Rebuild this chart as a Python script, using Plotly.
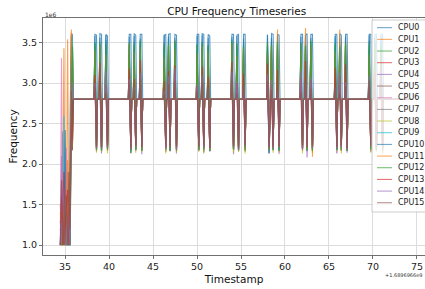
import plotly.graph_objects as go

# ---------------- data (frequency in units of 1e6, time in s after offset) ----------------
TIME_OFFSET_LABEL = "+1.6896966e9"
cpu_names = ["CPU%d" % i for i in range(16)]
tab10 = ["#1f77b4", "#ff7f0e", "#2ca02c", "#d62728", "#9467bd",
         "#8c564b", "#e377c2", "#7f7f7f", "#bcbd22", "#17becf"]

x_ticks = [35, 40, 45, 50, 55, 60, 65, 70, 75]
y_ticks = [1.0, 1.5, 2.0, 2.5, 3.0, 3.5]

early_t = [34.47, 34.60, 34.74, 34.88, 35.02, 35.16, 35.30, 35.44, 35.58, 35.72, 35.84, 35.94]
spike_t = [38.49, 39.06, 39.74, 42.39, 42.95, 43.64, 46.36, 46.85, 47.58,
           50.11, 50.68, 51.36, 54.06, 54.63, 55.38, 58.10, 58.56, 59.24,
           61.90, 62.42, 63.03, 65.80, 66.31, 66.97, 69.66, 70.30, 71.00]
sample_offsets = [-0.19, -0.09, 0.09, 0.19]
idle_freq = 2.80
t_end = 74.45

cpu0_early = [1.0, 1.5, 2.4, 1.0, 1.7, 1.0, 1.9, 1.0, 2.6, 3.6, 3.6, 2.8]
cpu1_early = [1.3, 1.0, 1.6, 3.43, 1.0, 1.4, 3.54, 1.0, 1.6, 3.62, 2.3, 2.8]
cpu2_early = [1.0, 1.4, 1.0, 1.6, 1.0, 1.3, 1.0, 1.5, 1.0, 3.3, 3.5, 2.8]
cpu3_early = [1.2, 1.0, 1.8, 1.0, 1.68, 1.0, 1.5, 1.0, 1.3, 2.9, 2.2, 2.8]
cpu4_early = [1.0, 2.1, 1.0, 1.4, 1.0, 1.2, 1.0, 1.6, 1.0, 3.2, 2.5, 2.8]
cpu5_early = [1.5, 1.0, 1.2, 1.9, 1.0, 1.6, 1.3, 1.0, 1.7, 3.0, 2.17, 2.8]
cpu6_early = [1.0, 3.31, 1.0, 1.3, 1.0, 2.2, 1.0, 1.4, 1.0, 3.1, 3.4, 2.8]
cpu7_early = [1.0, 1.2, 1.3, 1.0, 1.5, 1.0, 1.2, 1.7, 1.0, 2.8, 3.3, 2.8]
cpu8_early = [1.0, 1.0, 1.4, 1.0, 1.2, 1.0, 1.5, 1.0, 1.0, 2.6, 2.2, 2.8]
cpu9_early = [1.0, 1.3, 1.0, 2.6, 1.0, 1.2, 1.0, 1.0, 1.4, 3.4, 3.55, 2.8]
cpu10_early = [1.0, 1.0, 1.5, 1.0, 2.42, 1.0, 1.3, 1.0, 1.0, 3.58, 2.4, 2.8]
cpu11_early = [1.4, 1.0, 1.0, 1.7, 1.0, 1.0, 2.05, 1.0, 1.5, 3.66, 3.2, 2.8]
cpu12_early = [1.0, 1.2, 1.0, 1.0, 1.4, 1.0, 1.0, 1.3, 1.0, 2.9, 3.45, 2.8]
cpu13_early = [1.0, 1.6, 1.0, 1.9, 1.0, 1.5, 1.68, 1.0, 1.8, 2.5, 2.3, 2.8]
cpu14_early = [1.3, 1.0, 1.7, 1.5, 1.0, 1.0, 1.4, 1.2, 1.0, 2.7, 3.0, 2.8]
cpu15_early = [1.0, 1.8, 1.3, 1.0, 1.6, 1.6, 1.0, 1.9, 1.2, 2.9, 2.17, 2.8]

# (peak, trough) pairs for each burst
cpu0_spikes = [3.60, 3.59, 3.61, 3.60, 3.60, 3.58, 3.60, 3.60, 3.61, 3.59, 3.60, 3.60,
               3.59, 3.60, 3.60, 3.61, 3.60, 3.59, 3.60, 3.60, 3.61, 3.60, 3.60, 3.58,
               3.60, 3.60, 3.59, 3.60, 3.60, 3.60, 3.60, 2.14, 3.61, 3.60, 3.60, 3.59,
               3.60, 3.60, 3.59, 3.61, 3.60, 3.60, 3.60, 3.60, 3.61, 3.59, 3.60, 3.60,
               3.60, 3.60, 3.59, 3.60, 3.60, 3.60]
cpu1_spikes = [3.45, 2.18, 3.30, 2.16, 3.50, 2.19, 3.38, 2.17, 3.42, 2.20, 3.25, 2.16,
               3.48, 2.18, 3.35, 2.15, 3.52, 2.17, 3.40, 2.19, 3.30, 2.17, 3.46, 2.16,
               3.36, 2.18, 3.44, 2.15, 3.50, 2.18, 3.32, 2.17, 3.47, 2.20, 3.41, 2.16,
               3.38, 2.18, 3.49, 2.17, 3.45, 2.17, 3.30, 2.19, 3.47, 2.16, 3.52, 2.18,
               3.40, 2.17, 3.36, 2.16, 3.44, 2.18]
cpu2_spikes = [3.50, 2.17, 3.48, 2.19, 3.52, 2.16, 3.47, 2.14, 3.51, 2.18, 3.49, 2.17,
               3.50, 2.16, 3.46, 2.18, 3.52, 2.19, 3.48, 2.17, 3.50, 2.15, 3.47, 2.18,
               3.51, 2.17, 3.49, 2.16, 3.50, 2.19, 3.46, 2.18, 3.52, 2.17, 3.48, 2.16,
               3.50, 2.18, 3.47, 2.17, 3.51, 2.16, 3.49, 2.19, 3.50, 2.17, 3.48, 2.18,
               3.52, 2.16, 3.47, 2.18, 3.50, 2.17]
cpu3_spikes = [3.30, 2.18, 3.22, 2.17, 3.38, 2.19, 3.25, 2.16, 3.35, 2.18, 3.18, 2.17,
               3.32, 2.19, 3.28, 2.16, 3.20, 2.18, 3.36, 2.17, 3.24, 2.19, 3.30, 2.16,
               3.15, 2.18, 3.34, 2.17, 3.26, 2.19, 3.38, 2.16, 3.22, 2.18, 3.31, 2.17,
               3.27, 2.19, 3.35, 2.16, 3.19, 2.18, 3.33, 2.17, 3.25, 2.19, 3.30, 2.16,
               3.21, 2.18, 3.36, 2.17, 3.28, 2.19]
cpu4_spikes = [3.10, 2.15, 3.25, 2.13, 3.05, 2.16, 3.30, 2.14, 3.12, 2.17, 3.22, 2.12,
               3.08, 2.15, 3.35, 2.16, 3.15, 2.13, 3.28, 2.17, 3.02, 2.14, 3.18, 2.15,
               3.32, 2.12, 3.10, 2.16, 3.24, 2.15, 3.06, 2.13, 3.30, 2.17, 3.14, 2.14,
               3.20, 2.16, 3.09, 2.08, 3.27, 2.15, 3.12, 2.13, 3.34, 2.16, 3.04, 2.14,
               3.21, 2.15, 3.16, 2.17, 3.29, 2.13]
cpu5_spikes = [3.20, 2.18, 3.12, 2.17, 3.28, 2.19, 3.05, 2.16, 3.22, 2.18, 3.15, 2.17,
               3.30, 2.19, 3.08, 2.16, 3.18, 2.18, 3.25, 2.17, 3.10, 2.19, 3.27, 2.16,
               3.02, 2.18, 3.21, 2.17, 3.14, 2.19, 3.29, 2.16, 3.06, 2.18, 3.23, 2.17,
               3.16, 2.19, 3.26, 2.16, 3.09, 2.18, 3.19, 2.17, 3.13, 2.19, 3.24, 2.16,
               3.07, 2.18, 3.28, 2.17, 3.11, 2.19]
cpu6_spikes = [3.35, 2.16, 3.45, 2.15, 3.28, 2.17, 3.40, 2.14, 3.22, 2.16, 3.48, 2.18,
               3.30, 2.15, 3.42, 2.17, 3.26, 2.14, 3.38, 2.16, 3.46, 2.15, 3.24, 2.17,
               3.44, 2.14, 3.32, 2.16, 3.36, 2.18, 3.27, 2.15, 3.41, 2.17, 3.34, 2.12,
               3.47, 2.16, 3.29, 2.15, 3.39, 2.17, 3.23, 2.14, 3.43, 2.16, 3.31, 2.18,
               3.37, 2.15, 3.45, 2.17, 3.25, 2.14]
cpu7_spikes = [3.30, 2.19, 3.38, 2.18, 3.25, 2.20, 3.42, 2.17, 3.33, 2.19, 3.28, 2.18,
               3.40, 2.20, 3.22, 2.17, 3.36, 2.19, 3.31, 2.18, 3.44, 2.20, 3.27, 2.17,
               3.35, 2.19, 3.39, 2.18, 3.24, 2.20, 3.41, 2.17, 3.29, 2.19, 3.37, 2.18,
               3.26, 2.20, 3.43, 2.17, 3.32, 2.19, 3.38, 2.18, 3.23, 2.20, 3.40, 2.17,
               3.34, 2.19, 3.28, 2.18, 3.36, 2.20]
cpu8_spikes = [3.25, 2.14, 3.18, 2.15, 3.35, 2.13, 3.12, 2.16, 3.30, 2.14, 3.22, 2.15,
               3.38, 2.13, 3.15, 2.16, 3.28, 2.14, 3.20, 2.15, 3.33, 2.13, 3.17, 2.16,
               3.26, 2.14, 3.36, 2.15, 3.13, 2.13, 3.29, 2.16, 3.21, 2.14, 3.34, 2.15,
               3.16, 2.13, 3.27, 2.16, 3.37, 2.14, 3.19, 2.15, 3.31, 2.13, 3.24, 2.16,
               3.14, 2.14, 3.32, 2.15, 3.23, 2.13]
cpu9_spikes = [3.50, 2.18, 3.42, 2.17, 3.53, 2.19, 3.46, 2.16, 3.40, 2.18, 3.52, 2.17,
               3.44, 2.19, 3.55, 2.16, 3.48, 2.18, 3.41, 2.17, 3.51, 2.19, 3.45, 2.16,
               3.54, 2.18, 3.43, 2.17, 3.49, 2.19, 3.47, 2.16, 3.40, 2.18, 3.53, 2.17,
               3.42, 2.19, 3.50, 2.16, 3.46, 2.18, 3.55, 2.17, 3.44, 2.19, 3.48, 2.16,
               3.41, 2.18, 3.52, 2.17, 3.45, 2.19]
cpu10_spikes = [3.58, 2.19, 3.56, 2.18, 3.59, 2.20, 3.57, 2.17, 3.58, 2.19, 3.55, 2.18,
                3.59, 2.20, 3.57, 2.17, 3.56, 2.19, 3.58, 2.18, 3.59, 2.20, 3.56, 2.17,
                3.57, 2.19, 3.58, 2.18, 3.55, 2.20, 3.59, 2.13, 3.56, 2.19, 3.58, 2.18,
                3.57, 2.20, 3.59, 2.17, 3.56, 2.19, 3.58, 2.18, 3.55, 2.20, 3.57, 2.17,
                3.59, 2.19, 3.56, 2.18, 3.58, 2.20]
cpu11_spikes = [3.40, 2.18, 3.46, 2.19, 3.35, 2.17, 3.48, 2.18, 3.38, 2.19, 3.44, 2.17,
                3.32, 2.18, 3.47, 2.19, 3.42, 2.17, 3.36, 2.18, 3.45, 2.19, 3.39, 2.17,
                3.49, 2.18, 3.34, 2.19, 3.43, 2.17, 3.37, 2.18, 3.46, 2.19, 3.66, 2.20,
                3.41, 2.18, 3.68, 2.18, 3.45, 2.09, 3.38, 2.19, 3.66, 2.18, 3.47, 2.17,
                3.35, 2.18, 3.44, 2.19, 3.40, 2.17]
cpu12_spikes = [3.48, 2.17, 3.51, 2.16, 3.46, 2.18, 3.50, 2.13, 3.47, 2.17, 3.52, 2.16,
                3.45, 2.18, 3.49, 2.17, 3.51, 2.16, 3.47, 2.18, 3.50, 2.17, 3.46, 2.16,
                3.52, 2.18, 3.48, 2.17, 3.45, 2.16, 3.50, 2.18, 3.47, 2.17, 3.51, 2.16,
                3.49, 2.18, 3.46, 2.17, 3.52, 2.16, 3.48, 2.18, 3.45, 2.17, 3.50, 2.16,
                3.47, 2.18, 3.51, 2.17, 3.46, 2.16]
cpu13_spikes = [3.10, 2.21, 3.25, 2.20, 2.98, 2.22, 3.18, 2.19, 3.05, 2.23, 3.28, 2.21,
                3.02, 2.20, 3.15, 2.22, 3.22, 2.19, 2.96, 2.23, 3.20, 2.21, 3.08, 2.20,
                3.26, 2.22, 3.00, 2.19, 3.12, 2.23, 3.24, 2.21, 2.99, 2.20, 3.16, 2.22,
                3.06, 2.19, 3.27, 2.23, 3.03, 2.21, 3.19, 2.20, 3.09, 2.22, 3.23, 2.19,
                2.97, 2.23, 3.14, 2.21, 3.21, 2.20]
cpu14_spikes = [3.00, 2.20, 2.92, 2.19, 3.15, 2.21, 3.05, 2.18, 2.95, 2.22, 3.12, 2.20,
                2.90, 2.19, 3.08, 2.21, 3.18, 2.18, 2.98, 2.22, 3.10, 2.20, 2.93, 2.19,
                3.14, 2.21, 3.02, 2.18, 2.96, 2.22, 3.11, 2.20, 3.04, 2.19, 2.91, 2.21,
                3.16, 2.18, 2.99, 2.22, 3.07, 2.20, 2.94, 2.19, 3.13, 2.21, 3.01, 2.18,
                3.09, 2.22, 2.97, 2.20, 3.17, 2.19]
cpu15_spikes = [2.95, 2.22, 3.02, 2.21, 2.88, 2.23, 3.00, 2.20, 2.92, 2.22, 3.05, 2.21,
                2.86, 2.23, 2.98, 2.20, 3.03, 2.22, 2.90, 2.21, 3.01, 2.23, 2.94, 2.20,
                3.04, 2.22, 2.87, 2.21, 2.97, 2.23, 3.02, 2.20, 2.91, 2.22, 2.99, 2.21,
                2.89, 2.23, 3.04, 2.20, 2.93, 2.22, 3.00, 2.21, 2.88, 2.23, 2.96, 2.20,
                3.03, 2.22, 2.92, 2.21, 2.98, 2.23]

early_all = [cpu0_early, cpu1_early, cpu2_early, cpu3_early, cpu4_early, cpu5_early,
             cpu6_early, cpu7_early, cpu8_early, cpu9_early, cpu10_early, cpu11_early,
             cpu12_early, cpu13_early, cpu14_early, cpu15_early]
spikes_all = [cpu0_spikes, cpu1_spikes, cpu2_spikes, cpu3_spikes, cpu4_spikes, cpu5_spikes,
              cpu6_spikes, cpu7_spikes, cpu8_spikes, cpu9_spikes, cpu10_spikes, cpu11_spikes,
              cpu12_spikes, cpu13_spikes, cpu14_spikes, cpu15_spikes]

# ---------------- build figure ----------------
times = list(early_t)
for c in spike_t:
    times += [c + o for o in sample_offsets]
times.append(t_end)

W, H = 425, 289
L, R, T, B = 43, 425, 18, 255
FONT = "DejaVu Sans"

fig = go.Figure()
for i, name in enumerate(cpu_names):
    vals = list(early_all[i])
    sp = spikes_all[i]
    for k in range(len(spike_t)):
        vals += [idle_freq, sp[2 * k], sp[2 * k + 1], idle_freq]
    vals.append(idle_freq)
    fig.add_trace(go.Scatter(
        x=times, y=[v * 1e6 for v in vals], mode="lines", name=name,
        line=dict(color=tab10[i % 10], width=1.1), opacity=0.75, showlegend=False))


def pxx(xp):
    return (xp - L) / (R - L)


def pxy(yp):
    return (B - yp) / (B - T)


shapes = []
annotations = []
# legend box (matplotlib style, inside the axes at upper right)
shapes.append(dict(type="rect", xref="paper", yref="paper",
                   x0=pxx(372), x1=pxx(445), y0=pxy(212), y1=pxy(20),
                   fillcolor="rgba(255,255,255,0.8)",
                   line=dict(color="rgba(200,200,200,0.9)", width=1), layer="above"))
for i, name in enumerate(cpu_names):
    yc = 27.7 + i * 11.67
    shapes.append(dict(type="line", xref="paper", yref="paper",
                       x0=pxx(377), x1=pxx(392), y0=pxy(yc), y1=pxy(yc),
                       line=dict(color=tab10[i % 10], width=1), opacity=0.7, layer="above"))
    annotations.append(dict(text=name, xref="paper", yref="paper", x=pxx(395.5), y=pxy(yc),
                            xanchor="left", yanchor="middle", showarrow=False,
                            font=dict(family=FONT, size=8, color="#222")))

# axis offset texts
annotations.append(dict(text="1e6", xref="paper", yref="paper", x=pxx(43), y=pxy(15),
                        xanchor="left", yanchor="middle", showarrow=False,
                        font=dict(family=FONT, size=6, color="#333")))
annotations.append(dict(text=TIME_OFFSET_LABEL, xref="paper", yref="paper", x=pxx(424.5),
                        y=pxy(275), xanchor="right", yanchor="middle", showarrow=False,
                        font=dict(family=FONT, size=5, color="#333")))

fig.update_layout(
    width=W, height=H,
    margin=dict(l=L, r=W - R, t=T, b=H - B, pad=0),
    paper_bgcolor="white", plot_bgcolor="white",
    font=dict(family=FONT, color="#222"),
    title=dict(text="CPU Frequency Timeseries", x=pxx(236.7), xref="paper",
               y=1 - 11.5 / H, yref="container", xanchor="center", yanchor="middle",
               font=dict(family=FONT, size=10.5, color="#111")),
    shapes=shapes, annotations=annotations, showlegend=False,
)
fig.update_xaxes(
    range=[32.5, 75.91], tickvals=x_ticks, ticktext=[str(v) for v in x_ticks],
    showgrid=True, gridcolor="#dcdcdc", gridwidth=0.8, zeroline=False,
    showline=True, linecolor="#707070", linewidth=1, mirror=True,
    ticks="outside", ticklen=3, tickcolor="#707070", tickwidth=1,
    tickfont=dict(family=FONT, size=9.5, color="#222"), automargin=False,
    title=dict(text="Timestamp", font=dict(family=FONT, size=10.5, color="#111"), standoff=4),
)
fig.update_yaxes(
    range=[0.8765e6, 3.8025e6], tickvals=[v * 1e6 for v in y_ticks],
    ticktext=["%.1f" % v for v in y_ticks],
    showgrid=True, gridcolor="#dcdcdc", gridwidth=0.8, zeroline=False,
    showline=True, linecolor="#707070", linewidth=1, mirror=True,
    ticks="outside", ticklen=3, tickcolor="#707070", tickwidth=1,
    tickfont=dict(family=FONT, size=9.5, color="#222"), automargin=False,
    title=dict(text="Frequency", font=dict(family=FONT, size=10.5, color="#111"), standoff=2),
)

fig.write_html("out.html", config={"displayModeBar": False},
               post_script="document.body.style.margin='0';document.body.style.overflow='hidden';")
